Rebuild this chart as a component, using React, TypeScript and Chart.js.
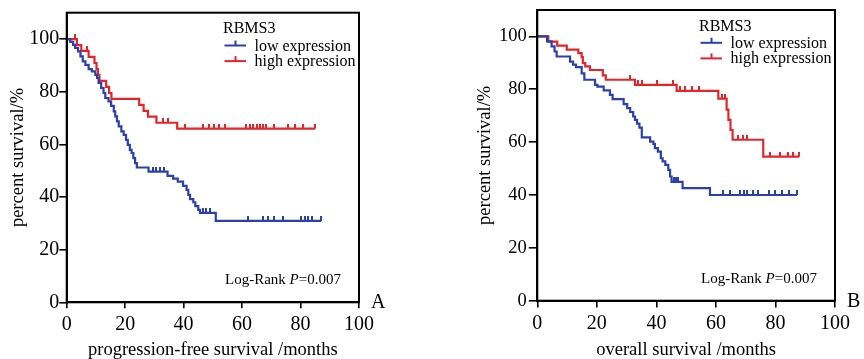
import React, { useEffect, useRef } from "react";
import { Chart, registerables } from "chart.js";

Chart.register(...registerables);

// ---------------- data ----------------
const xTicks = [0, 20, 40, 60, 80, 100];
const yTicks = [0, 20, 40, 60, 80, 100];
const groupTitle = "RBMS3";
const groupLabels = ["low expression", "high expression"];
const statText = ["Log-Rank ", "P", "=0.007"];
const panelLabels = ["A", "B"];
const xTitles = ["progression-free survival /months", "overall survival /months"];
const yTitle = "percent survival/%";

// Panel A: progression-free survival, low expression
const pfsLowTimes = [0, 1.2, 2.2, 2.9, 3.9, 4.7, 5.5, 6.4, 7.5, 8.6, 9.8, 10.4, 10.9, 11.8, 12.6, 13.2, 14.3, 15.2, 16.1, 16.6, 17.2, 17.8, 18.7, 19.5, 20.3, 20.9, 21.6, 22.2, 22.8, 23.4, 24.0, 28.0, 34.5, 36.4, 38.0, 39.8, 41.0, 41.6, 42.2, 43.3, 44.0, 45.0, 45.6, 51.0];
const pfsLowSurv = [100, 98.9, 97.8, 96.6, 95.3, 93.4, 91.5, 90.2, 88.6, 87.7, 86.4, 85.2, 83.3, 81.4, 79.5, 77.6, 76.3, 74.6, 72.5, 70.6, 68.7, 66.8, 64.9, 63.6, 61.7, 59.8, 57.9, 56.7, 54.8, 52.9, 51.2, 49.6, 48.0, 47.0, 45.8, 44.2, 42.7, 40.8, 39.2, 38.0, 36.5, 35.1, 34.0, 30.9];
const pfsLowCensor = [29.5, 30.7, 31.9, 33.3, 46.5, 47.8, 49.0, 62.0, 67.0, 69.0, 71.0, 74.0, 80.3, 81.5, 82.6, 84.0, 87.0];

// Panel A: progression-free survival, high expression
const pfsHighTimes = [0, 3.5, 5.0, 7.5, 9.5, 10.2, 10.7, 11.2, 13.5, 14.5, 15.3, 24.8, 26.3, 27.8, 30.7, 37.8];
const pfsHighSurv = [100, 97.7, 95.5, 93.2, 90.9, 88.6, 86.4, 84.1, 81.8, 79.5, 77.3, 75.0, 72.7, 70.5, 68.2, 66.0];
const pfsHighCensor = [2.7, 6.9, 33.0, 34.7, 40.4, 46.5, 48.7, 50.4, 52.2, 54.1, 61.5, 62.8, 63.8, 65.0, 66.2, 67.2, 68.3, 71.0, 75.7, 78.0, 81.0, 85.0];

// Panel B: overall survival, low expression
const osLowTimes = [0, 3.3, 4.8, 5.8, 6.5, 11.0, 12.0, 13.0, 14.9, 15.8, 19.4, 20.2, 22.3, 24.4, 25.3, 29.0, 30.2, 31.2, 32.2, 32.8, 33.5, 34.3, 35.1, 37.9, 39.0, 39.5, 40.5, 41.5, 42.1, 43.0, 44.0, 44.6, 45.1, 48.8, 58.0];
const osLowSurv = [100, 98.1, 96.2, 94.3, 92.4, 90.5, 89.3, 88.4, 86.0, 83.6, 81.7, 81.0, 79.6, 77.9, 76.3, 74.4, 72.9, 71.4, 69.7, 68.4, 67.0, 65.5, 61.8, 60.2, 59.3, 57.7, 56.4, 53.9, 52.7, 51.4, 49.5, 47.0, 45.0, 42.6, 40.0];
const osLowCensor = [45.9, 46.6, 47.4, 62.4, 64.7, 68.1, 69.4, 70.6, 72.3, 74.2, 77.8, 79.8, 82.3, 84.5, 87.2];

// Panel B: overall survival, high expression
const osHighTimes = [0, 3.7, 6.7, 9.9, 13.8, 14.9, 15.3, 16.1, 17.7, 22.0, 23.0, 32.8, 46.8, 60.8, 63.6, 64.2, 64.9, 65.6, 75.9];
const osHighSurv = [100, 98.0, 96.5, 95.0, 93.7, 92.2, 89.9, 88.7, 87.3, 85.3, 83.6, 81.7, 79.4, 76.5, 72.3, 68.4, 64.6, 60.9, 54.5];
const osHighCensor = [31.1, 33.9, 35.1, 40.1, 45.7, 47.9, 49.6, 51.9, 54.4, 61.9, 63.0, 67.5, 69.2, 70.3, 78.2, 81.5, 84.3, 86.0, 88.0];

// ---------------- styles ----------------
const FONT = "'Liberation Serif', 'Times New Roman', serif";
const BLUE = "#2b3fae";
const RED = "#e3252b";

type Layout = {
  padding: { left: number; top: number; right: number; bottom: number };
  yWidth: number;
  xHeight: number;
  yTickSize: number;
  yTickLen: number;
  yTickPad: number;
  xTickLen: number;
};

const layouts: Layout[] = [
  { padding: { left: 0, top: 12.7, right: 73, bottom: 0 }, yWidth: 66.7, xHeight: 56.7, yTickSize: 20, yTickLen: 7.4, yTickPad: 0, xTickLen: 6 },
  { padding: { left: 35, top: 10, right: 29, bottom: 0 }, yWidth: 70.3, xHeight: 58.3, yTickSize: 18.5, yTickLen: 8.5, yTickPad: 2, xTickLen: 6.7 },
];

function stepValue(times: number[], surv: number[], t: number) {
  let v = surv[0];
  for (let i = 0; i < times.length; i++) if (times[i] <= t) v = surv[i];
  return v;
}

function makeTick(color: string) {
  const c = document.createElement("canvas");
  c.width = 2;
  c.height = 10;
  const g = c.getContext("2d")!;
  g.fillStyle = color;
  g.fillRect(0, 0, 2, 5);
  return c;
}

function kmDatasets(times: number[], surv: number[], censor: number[], label: string, color: string) {
  const last = times[times.length - 1];
  const end = censor.length ? Math.max(censor[censor.length - 1], last) : last;
  const pts = times.map((t, i) => ({ x: t, y: surv[i] }));
  if (end > last) pts.push({ x: end, y: surv[surv.length - 1] });
  return [
    {
      label,
      isCurve: true,
      data: pts,
      borderColor: color,
      backgroundColor: color,
      borderWidth: 2.2,
      stepped: "before",
      pointRadius: 0,
      fill: false,
    },
    {
      label: label + " (censored)",
      isCurve: false,
      data: censor.map((t) => ({ x: t, y: stepValue(times, surv, t) })),
      showLine: false,
      borderColor: color,
      backgroundColor: color,
      pointStyle: makeTick(color),
      pointRadius: 3,
      pointHoverRadius: 3,
    },
  ];
}

const decorPlugin = {
  id: "kmDecor",
  afterDraw(chart: any, _args: any, opts: any) {
    const { ctx, chartArea: a } = chart;
    ctx.save();
    ctx.strokeStyle = "#000";
    ctx.lineWidth = 2;
    ctx.strokeRect(a.left, a.top, a.right - a.left, a.bottom - a.top);

    ctx.textAlign = "left";
    ctx.textBaseline = "alphabetic";
    ctx.fillStyle = "#000";
    ctx.font = `16px ${FONT}`;
    const ty = a.top + 20.5;
    ctx.fillText(groupTitle, a.right - 136, ty);
    const curves = chart.data.datasets.filter((d: any) => d.isCurve);
    curves.forEach((d: any, i: number) => {
      const by = ty + 17.3 + i * 15.6;
      const ly = by - 5;
      ctx.strokeStyle = d.borderColor;
      ctx.lineWidth = 2;
      ctx.beginPath();
      ctx.moveTo(a.right - 134.5, ly);
      ctx.lineTo(a.right - 113, ly);
      ctx.stroke();
      ctx.fillStyle = d.borderColor;
      ctx.fillRect(a.right - 124.5, ly - 5, 2, 5);
      ctx.fillStyle = "#000";
      ctx.fillText(d.label, a.right - 104.5, by);
    });

    let sx = a.right - 134;
    const sy = a.bottom - 18;
    ctx.font = `15px ${FONT}`;
    ctx.fillText(statText[0], sx, sy);
    sx += ctx.measureText(statText[0]).width;
    ctx.font = `italic 15px ${FONT}`;
    ctx.fillText(statText[1], sx, sy);
    sx += ctx.measureText(statText[1]).width;
    ctx.font = `15px ${FONT}`;
    ctx.fillText(statText[2], sx, sy);

    ctx.font = `20px ${FONT}`;
    ctx.fillText(opts.panel, a.right + 12, a.bottom + 6);
    ctx.restore();
  },
};

function makeConfig(idx: number, datasets: any[]): any {
  const L = layouts[idx];
  return {
    type: "line",
    data: { datasets },
    plugins: [decorPlugin],
    options: {
      responsive: false,
      animation: false,
      events: [],
      layout: { padding: L.padding },
      plugins: {
        legend: { display: false },
        tooltip: { enabled: false },
        kmDecor: { panel: panelLabels[idx] },
      },
      scales: {
        x: {
          type: "linear",
          min: 0,
          max: 100,
          afterBuildTicks: (s: any) => {
            s.ticks = xTicks.map((v) => ({ value: v }));
          },
          afterFit: (s: any) => {
            s.height = L.xHeight;
            s.paddingLeft = 0;
            s.paddingRight = 0;
          },
          ticks: {
            font: { family: FONT, size: 20 },
            color: "#000",
            padding: 4,
            maxRotation: 0,
            autoSkip: false,
          },
          grid: { drawOnChartArea: false, drawTicks: true, tickLength: L.xTickLen, color: "#000", lineWidth: 1.6 },
          border: { display: true, color: "#000", width: 2 },
          title: {
            display: true,
            text: xTitles[idx],
            color: "#000",
            font: { family: FONT, size: 18.5, lineHeight: 1 },
            padding: { top: 0, bottom: 0 },
          },
        },
        y: {
          type: "linear",
          min: 0,
          max: 110,
          afterBuildTicks: (s: any) => {
            s.ticks = yTicks.map((v) => ({ value: v }));
          },
          afterFit: (s: any) => {
            s.width = L.yWidth;
            s.paddingTop = 0;
            s.paddingBottom = 0;
          },
          ticks: {
            font: { family: FONT, size: L.yTickSize },
            color: "#000",
            padding: L.yTickPad,
            autoSkip: false,
          },
          grid: { drawOnChartArea: false, drawTicks: true, tickLength: L.yTickLen, color: "#000", lineWidth: 1.6 },
          border: { display: true, color: "#000", width: 2 },
          title: {
            display: true,
            text: yTitle,
            color: "#000",
            font: { family: FONT, size: 18.5, lineHeight: 1 },
            padding: { top: 9, bottom: 0 },
          },
        },
      },
    },
  };
}

export default function App() {
  const leftRef = useRef<HTMLCanvasElement>(null);
  const rightRef = useRef<HTMLCanvasElement>(null);

  useEffect(() => {
    Chart.defaults.font.family = FONT;
    Chart.defaults.color = "#000";
    const leftSets = [
      ...kmDatasets(pfsLowTimes, pfsLowSurv, pfsLowCensor, groupLabels[0], BLUE),
      ...kmDatasets(pfsHighTimes, pfsHighSurv, pfsHighCensor, groupLabels[1], RED),
    ];
    const rightSets = [
      ...kmDatasets(osLowTimes, osLowSurv, osLowCensor, groupLabels[0], BLUE),
      ...kmDatasets(osHighTimes, osHighSurv, osHighCensor, groupLabels[1], RED),
    ];
    const c1 = new Chart(leftRef.current!, makeConfig(0, leftSets));
    const c2 = new Chart(rightRef.current!, makeConfig(1, rightSets));
    return () => {
      c1.destroy();
      c2.destroy();
    };
  }, []);

  return (
    <div style={{ position: "fixed", left: 0, top: 0, width: 864, height: 359, background: "#fff", overflow: "hidden" }}>
      <canvas ref={leftRef} width={432} height={359} style={{ position: "absolute", left: 0, top: 0, width: 432, height: 359, display: "block" }} />
      <canvas ref={rightRef} width={432} height={359} style={{ position: "absolute", left: 432, top: 0, width: 432, height: 359, display: "block" }} />
    </div>
  );
}
